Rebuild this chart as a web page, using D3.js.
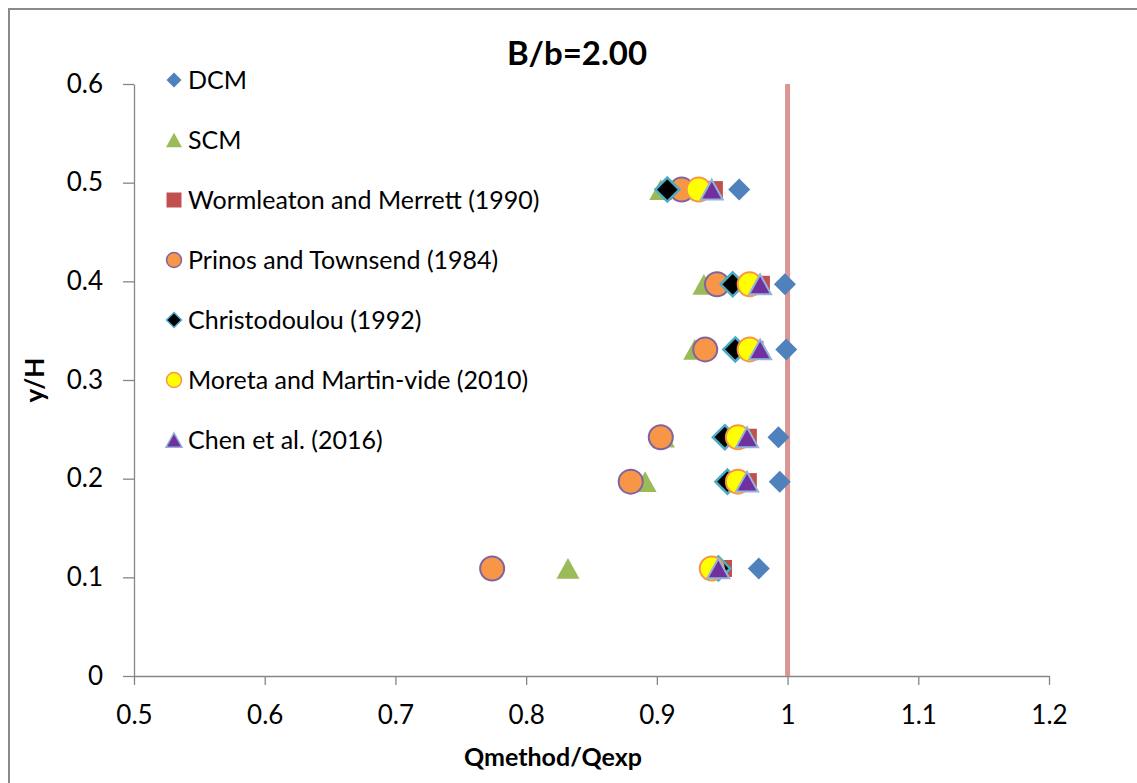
<!DOCTYPE html>
<html>
<head>
<meta charset="utf-8">
<script src="https://cdn.jsdelivr.net/npm/d3@7"></script>
<style>
  html, body { margin: 0; padding: 0; background: #fff; }
  svg { display: block; font-family: Lato, "Open Sans", sans-serif; }
</style>
</head>
<body>
<svg id="chart" width="1137" height="783"></svg>
<script>
// Relative depth levels of each measurement row
const depthLevels = [0.493, 0.397, 0.331, 0.242, 0.197, 0.109];

// Discharge ratio Qmethod/Qexp per method, one value per depth level
const dcm          = [0.963, 0.998, 0.999, 0.993, 0.994, 0.978];
const scm          = [0.903, 0.936, 0.929, 0.905, 0.891, 0.832];
const wormleaton   = [0.944, 0.980, 0.975, 0.970, 0.970, 0.951];
const prinos       = [0.919, 0.946, 0.937, 0.903, 0.880, 0.774];
const christo      = [0.908, 0.958, 0.960, 0.952, 0.954, 0.947];
const moreta       = [0.932, 0.971, 0.971, 0.962, 0.962, 0.942];
const chen         = [0.942, 0.979, 0.979, 0.969, 0.969, 0.947];

const seriesNames = [
  "DCM", "SCM", "Wormleaton and Merrett (1990)", "Prinos and Townsend (1984)",
  "Christodoulou (1992)", "Moreta and Martin-vide (2010)", "Chen et al. (2016)"
];

const xTicks = [0.5, 0.6, 0.7, 0.8, 0.9, 1.0, 1.1, 1.2];
const yTicks = [0, 0.1, 0.2, 0.3, 0.4, 0.5, 0.6];
const referenceRatio = 1.0;

const chartTitle = "B/b=2.00";
const xTitle = "Qmethod/Qexp";
const yTitle = "y/H";

// Marker style per series
const styles = [
  { shape: "diamond",  fill: "#4F81BD", stroke: "none",    sw: 0,   size: 22, legendSize: 15 },
  { shape: "triangle", fill: "#9BBB59", stroke: "none",    sw: 0,   size: 23, legendSize: 16 },
  { shape: "square",   fill: "#C0504D", stroke: "none",    sw: 0,   size: 17, legendSize: 15 },
  { shape: "circle",   fill: "#F79646", stroke: "#8064A2", sw: 2,   size: 24, legendSize: 15 },
  { shape: "diamond",  fill: "#000000", stroke: "#4BACC6", sw: 2.5, size: 24, legendSize: 15 },
  { shape: "circle",   fill: "#FFFF00", stroke: "#F79646", sw: 2,   size: 24, legendSize: 15 },
  { shape: "triangle", fill: "#7030A0", stroke: "#95B3D7", sw: 2,   size: 22, legendSize: 16 }
];
const seriesValues = [dcm, scm, wormleaton, prinos, christo, moreta, chen];

function markerPath(shape, s) {
  const h = s / 2;
  if (shape === "diamond") return `M0,${-h}L${h},0L0,${h}L${-h},0Z`;
  if (shape === "square") return `M${-h},${-h}H${h}V${h}H${-h}Z`;
  if (shape === "triangle") {
    const th = s * 0.9;
    return `M0,${-th / 2}L${h},${th / 2}L${-h},${th / 2}Z`;
  }
  return d3.arc()({ innerRadius: 0, outerRadius: h, startAngle: 0, endAngle: 2 * Math.PI });
}

const svg = d3.select("#chart");
const margin = { left: 134, right: 1049, top: 84, bottom: 676 };

// Outer chart frame
svg.append("rect")
  .attr("x", 9).attr("y", 9)
  .attr("width", 1160).attr("height", 800)
  .attr("fill", "#fff").attr("stroke", "#8a8a8a").attr("stroke-width", 2);

const x = d3.scaleLinear().domain([0.5, 1.2]).range([margin.left, margin.right]);
const y = d3.scaleLinear().domain([0, 0.6]).range([margin.bottom, margin.top]);

const fmt = d => String(+d.toFixed(1));
const axisColor = "#868686";

// Y axis
const gy = svg.append("g")
  .attr("transform", `translate(${margin.left},0)`)
  .call(d3.axisLeft(y).tickValues(yTicks).tickFormat(fmt).tickSize(11).tickSizeOuter(0).tickPadding(20));
gy.select(".domain").attr("stroke", axisColor).attr("stroke-width", 1.3);
gy.selectAll(".tick line").attr("stroke", axisColor).attr("stroke-width", 1.3);
gy.selectAll(".tick text").attr("font-size", 26).attr("fill", "#000").attr("font-family", "Lato");

// X axis
const gx = svg.append("g")
  .attr("transform", `translate(0,${margin.bottom})`)
  .call(d3.axisBottom(x).tickValues(xTicks).tickFormat(fmt).tickSize(9).tickSizeOuter(0).tickPadding(20));
gx.select(".domain").attr("stroke", axisColor).attr("stroke-width", 1.3);
gx.selectAll(".tick line").attr("stroke", axisColor).attr("stroke-width", 1.3);
gx.selectAll(".tick text").attr("font-size", 26).attr("fill", "#000").attr("font-family", "Lato")
  .attr("dy", "0.71em").attr("y", 30);

// Reference line at Qmethod/Qexp = 1
svg.append("line")
  .attr("x1", x(referenceRatio)).attr("x2", x(referenceRatio))
  .attr("y1", y(0.6)).attr("y2", y(0))
  .attr("stroke", "#D99694").attr("stroke-width", 5);

// Data markers, drawn series by series
seriesValues.forEach((vals, i) => {
  const st = styles[i];
  svg.append("g").attr("class", "series")
    .selectAll("path")
    .data(vals.map((v, j) => ({ x: v, y: depthLevels[j] })))
    .join("path")
    .attr("transform", d => `translate(${x(d.x)},${y(d.y)})`)
    .attr("d", markerPath(st.shape, st.size))
    .attr("fill", st.fill)
    .attr("stroke", st.stroke)
    .attr("stroke-width", st.sw);
});

// Legend
const legend = svg.append("g").attr("transform", "translate(174,80)");
seriesNames.forEach((name, i) => {
  const st = styles[i];
  const row = legend.append("g").attr("transform", `translate(0,${i * 60})`);
  row.append("path")
    .attr("d", markerPath(st.shape, st.legendSize))
    .attr("fill", st.fill)
    .attr("stroke", st.stroke)
    .attr("stroke-width", st.sw > 0 ? 1.5 : 0);
  row.append("text")
    .attr("x", 14).attr("y", 0).attr("dy", "0.36em")
    .attr("font-size", 25).attr("fill", "#000")
    .text(name);
});

// Titles
svg.append("text")
  .attr("x", 577).attr("y", 65)
  .attr("text-anchor", "middle").attr("font-weight", "bold").attr("font-size", 33)
  .text(chartTitle);

svg.append("text")
  .attr("x", 553).attr("y", 766)
  .attr("text-anchor", "middle").attr("font-weight", "bold").attr("font-size", 25)
  .text(xTitle);

svg.append("text")
  .attr("transform", "translate(44,380) rotate(-90)")
  .attr("text-anchor", "middle").attr("font-weight", "bold").attr("font-size", 26)
  .text(yTitle);
</script>
</body>
</html>
